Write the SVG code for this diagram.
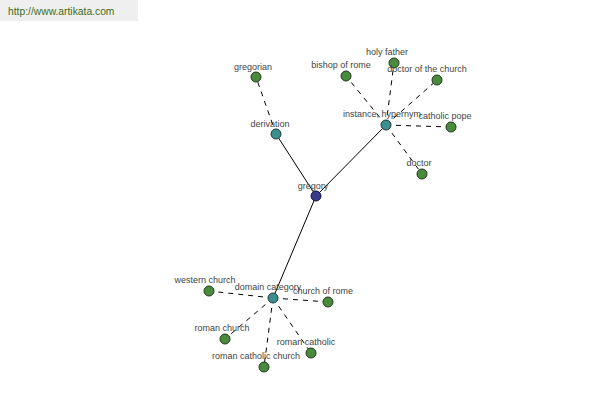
<svg xmlns="http://www.w3.org/2000/svg" width="600" height="400" viewBox="0 0 600 400">
<style>
.lbl{font-family:"Liberation Sans",Arial,sans-serif;font-size:9px;fill:#444;text-anchor:middle}
.solid{stroke:#000;stroke-width:1;fill:none}
.dash{stroke:#000;stroke-width:1;fill:none;stroke-dasharray:5,5}
.leaf{fill:#4a8a3c;stroke:#1e3a1a;stroke-width:1}
.hub{fill:#3d8e8e;stroke:#1e3a3a;stroke-width:1}
.root{fill:#3a3a8c;stroke:#15153a;stroke-width:1}
</style>
<rect x="0" y="0" width="138" height="21" fill="#efefef"/>
<text x="8" y="15" font-family="'Liberation Sans',Arial,sans-serif" font-size="10.3" fill="#3d6b1e">http://www.artikata.com</text>
<g id="connectors">
<line class="solid" x1="316" y1="196" x2="276" y2="134"/>
<line class="solid" x1="316" y1="196" x2="386" y2="125"/>
<line class="solid" x1="316" y1="196" x2="273" y2="298"/>
<line class="dash" x1="276" y1="134" x2="256" y2="77"/>
<line class="dash" x1="386" y1="125" x2="346" y2="76"/>
<line class="dash" x1="386" y1="125" x2="394" y2="63"/>
<line class="dash" x1="386" y1="125" x2="437" y2="80"/>
<line class="dash" x1="386" y1="125" x2="451" y2="127"/>
<line class="dash" x1="386" y1="125" x2="422" y2="174"/>
<line class="dash" x1="273" y1="298" x2="209" y2="291"/>
<line class="dash" x1="273" y1="298" x2="328" y2="302"/>
<line class="dash" x1="273" y1="298" x2="225" y2="339"/>
<line class="dash" x1="273" y1="298" x2="311" y2="353"/>
<line class="dash" x1="273" y1="298" x2="264" y2="367"/>
</g>
<g id="gregory"><circle class="root" cx="316" cy="196" r="5"/><text class="lbl" x="313" y="189">gregory</text></g>
<g id="derivation"><circle class="hub" cx="276" cy="134" r="5"/><text class="lbl" x="270" y="127">derivation</text></g>
<g id="gregorian"><circle class="leaf" cx="256" cy="77" r="5"/><text class="lbl" x="253" y="70">gregorian</text></g>
<g id="instance-hypernym"><circle class="hub" cx="386" cy="125" r="5"/><text class="lbl" x="382" y="117">instance, hypernym</text></g>
<g id="bishop-of-rome"><circle class="leaf" cx="346" cy="76" r="5"/><text class="lbl" x="341" y="68">bishop of rome</text></g>
<g id="holy-father"><circle class="leaf" cx="394" cy="63" r="5"/><text class="lbl" x="387" y="55">holy father</text></g>
<g id="doctor-of-the-church"><circle class="leaf" cx="437" cy="80" r="5"/><text class="lbl" x="427" y="72">doctor of the church</text></g>
<g id="catholic-pope"><circle class="leaf" cx="451" cy="127" r="5"/><text class="lbl" x="445" y="119">catholic pope</text></g>
<g id="doctor"><circle class="leaf" cx="422" cy="174" r="5"/><text class="lbl" x="419" y="166">doctor</text></g>
<g id="domain-category"><circle class="hub" cx="273" cy="298" r="5"/><text class="lbl" x="268" y="290">domain category</text></g>
<g id="western-church"><circle class="leaf" cx="209" cy="291" r="5"/><text class="lbl" x="205" y="283">western church</text></g>
<g id="church-of-rome"><circle class="leaf" cx="328" cy="302" r="5"/><text class="lbl" x="323" y="294">church of rome</text></g>
<g id="roman-church"><circle class="leaf" cx="225" cy="339" r="5"/><text class="lbl" x="222" y="331">roman church</text></g>
<g id="roman-catholic"><circle class="leaf" cx="311" cy="353" r="5"/><text class="lbl" x="306" y="345">roman catholic</text></g>
<g id="roman-catholic-church"><circle class="leaf" cx="264" cy="367" r="5"/><text class="lbl" x="256" y="359">roman catholic church</text></g>
</svg>
